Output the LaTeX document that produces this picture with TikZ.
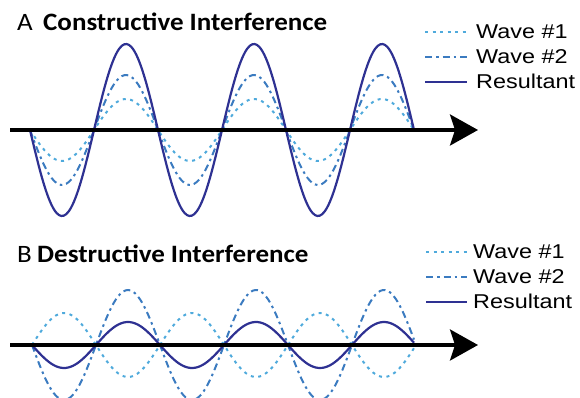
\documentclass[tikz,border=0pt]{standalone}
\usepackage{fontspec}
\setmainfont{Liberation Sans}
\newfontfamily\legfont[FakeStretch=1.17]{Liberation Sans}
\newfontfamily\ttlfont[FakeStretch=1.08]{Carlito}
\usetikzlibrary{arrows.meta}
\definecolor{resblue}{HTML}{2E3192}
\definecolor{midblue}{HTML}{3B7BC0}
\definecolor{lightblue}{HTML}{4FAADC}

\begin{document}
\begin{tikzpicture}[x=1pt,y=1pt,
  wone/.style={lightblue,line width=2pt,dash pattern=on 3pt off 4.5pt},
  wtwo/.style={midblue,line width=2pt,dash pattern=on 7pt off 4pt on 2.5pt off 4pt},
  wres/.style={resblue,line width=2.2pt},
  axis/.style={line width=3.5pt,-{Stealth[length=28pt,width=31pt,inset=5pt]}},
  legtext/.style={anchor=base west,inner sep=0pt,font=\legfont\fontsize{20}{24}\selectfont},
  ttl/.style={anchor=base west,inner sep=0pt,font=\ttlfont\fontsize{25}{30}\selectfont}]
\useasboundingbox (0,0) rectangle (580,398);
\clip (0,0) rectangle (580,398);
% A: constructive
\begin{scope}[yshift=268pt]
\draw[wone,domain=30:414,samples=160,smooth] plot (\x,{-31*sin((\x-30)*2.8125)});
\draw[wtwo,domain=30:414,samples=160,smooth] plot (\x,{-55*sin((\x-30)*2.8125)});
\draw[wres,domain=30:414,samples=160,smooth] plot (\x,{-86*sin((\x-30)*2.8125)});
\coordinate (a0) at (10,0); \coordinate (a1) at (478,0);
\draw[axis] (a0) -- (a1);
\node[ttl] (ttlA) at (17,99) {A};
\node[ttl] (nameA) at (43,99) {\bfseries Constructive Interference};
\coordinate (la1) at (425,98); \coordinate (lb1) at (467,98);
\coordinate (la2) at (425,73); \coordinate (lb2) at (467,73);
\coordinate (la3) at (425,48); \coordinate (lb3) at (467,48);
\draw[wone] (la1) -- (lb1);
\draw[wtwo] (la2) -- (lb2);
\draw[wres] (la3) -- (lb3);
\node[legtext] (legA1) at (476,91) {Wave \#1};
\node[legtext] (legA2) at (476,66) {Wave \#2};
\node[legtext] (legA3) at (476,41) {Resultant};
\end{scope}
% B: destructive
\begin{scope}[yshift=53pt]
\draw[wone,domain=32:414,samples=160,smooth] plot (\x,{32*sin((\x-32)*2.8125)});
\draw[wtwo,domain=32:414,samples=160,smooth] plot (\x,{-55*sin((\x-32)*2.8125)});
\draw[wres,domain=32:414,samples=160,smooth] plot (\x,{-23*sin((\x-32)*2.8125)});
\coordinate (b0) at (10,0); \coordinate (b1) at (478,0);
\draw[axis] (b0) -- (b1);
\node[ttl] (ttlB) at (17,82) {B};
\node[ttl] (nameB) at (37,82) {\bfseries Destructive Interference};
\coordinate (ma1) at (426,93); \coordinate (mb1) at (467,93);
\coordinate (ma2) at (426,68); \coordinate (mb2) at (467,68);
\coordinate (ma3) at (426,43); \coordinate (mb3) at (467,43);
\draw[wone] (ma1) -- (mb1);
\draw[wtwo] (ma2) -- (mb2);
\draw[wres] (ma3) -- (mb3);
\node[legtext] (legB1) at (473,86) {Wave \#1};
\node[legtext] (legB2) at (473,61) {Wave \#2};
\node[legtext] (legB3) at (473,36) {Resultant};
\end{scope}
\end{tikzpicture}
\end{document}
